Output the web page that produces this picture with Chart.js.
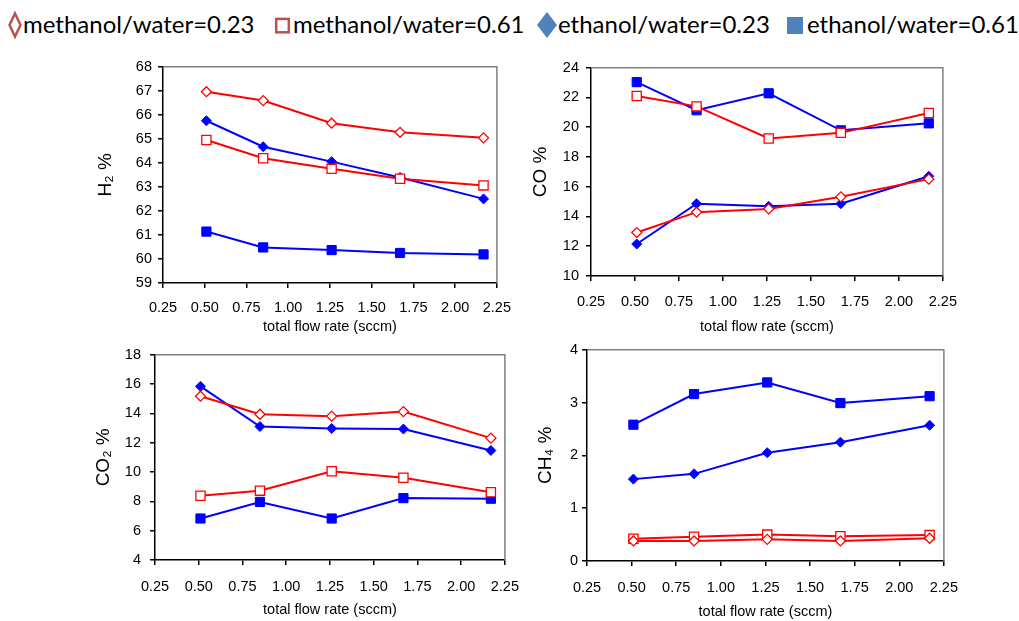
<!DOCTYPE html>
<html>
<head>
<meta charset="utf-8">
<script src="https://cdn.jsdelivr.net/npm/chart.js@4"></script>
<style>
  body { margin: 0; width: 1019px; height: 621px; background: #fff; position: relative; overflow: hidden; }
  .box { position: absolute; }
  .leg { position: absolute; top: 10px; font-family: Lato, sans-serif; font-size: 24px; line-height: 1.2; color: #000; white-space: nowrap; }
  #legendMarks { position: absolute; left: 0; top: 0; }
</style>
</head>
<body>

<svg id="legendMarks" width="1019" height="45">
  <polygon points="15,13.5 20.5,25 15,36.5 9.5,25" fill="none" stroke="#C0504D" stroke-width="2.5"/>
  <rect x="276.2" y="18.9" width="12.6" height="13.4" fill="none" stroke="#C0504D" stroke-width="2.5"/>
  <polygon points="547,12 557,25 547,38 537,25" fill="#4F81BD"/>
  <rect x="787" y="17" width="16" height="17" fill="#4F81BD"/>
</svg>
<div class="leg" style="left:23px">methanol/water=0.23</div>
<div class="leg" style="left:293px">methanol/water=0.61</div>
<div class="leg" style="left:558px">ethanol/water=0.23</div>
<div class="leg" style="left:807px">ethanol/water=0.61</div>

<div class="box" style="left:93px;top:52px;width:429px;height:291px"><canvas id="h2Chart"></canvas></div>
<div class="box" style="left:521px;top:52px;width:448px;height:284px"><canvas id="coChart"></canvas></div>
<div class="box" style="left:85px;top:337px;width:447px;height:283px"><canvas id="co2Chart"></canvas></div>
<div class="box" style="left:517px;top:337px;width:454px;height:284px"><canvas id="ch4Chart"></canvas></div>

<script>
// total flow rate (sccm)
const flowRate = [0.51, 0.85, 1.26, 1.67, 2.17];
const xTicks = [0.25, 2.25, 0.25]; // min, max, step

// H2 %
const h2MeOH023 = [66.96, 66.59, 65.65, 65.27, 65.04];
const h2MeOH061 = [64.95, 64.19, 63.75, 63.34, 63.06];
const h2EtOH023 = [65.75, 64.67, 64.05, 63.39, 62.50];
const h2EtOH061 = [61.14, 60.48, 60.37, 60.25, 60.19];
const h2Ticks = [59, 68, 1];

// CO %
const coMeOH023 = [12.92, 14.29, 14.51, 15.32, 16.51];
const coMeOH061 = [22.10, 21.40, 19.24, 19.62, 20.96];
const coEtOH023 = [12.15, 14.86, 14.68, 14.86, 16.70];
const coEtOH061 = [23.03, 21.14, 22.28, 19.79, 20.26];
const coTicks = [10, 24, 2];

// CO2 %
const co2MeOH023 = [15.17, 13.94, 13.81, 14.12, 12.31];
const co2MeOH061 = [8.38, 8.73, 10.05, 9.61, 8.62];
const co2EtOH023 = [15.84, 13.10, 12.97, 12.93, 11.47];
const co2EtOH061 = [6.83, 7.96, 6.83, 8.22, 8.18];
const co2Ticks = [4, 18, 2];

// CH4 %
const ch4MeOH023 = [0.38, 0.38, 0.41, 0.38, 0.43];
const ch4MeOH061 = [0.42, 0.46, 0.50, 0.47, 0.49];
const ch4EtOH023 = [1.55, 1.65, 2.05, 2.25, 2.57];
const ch4EtOH061 = [2.58, 3.16, 3.38, 2.99, 3.12];
const ch4Ticks = [0, 4, 1];

const seriesNames = ['methanol/water=0.23', 'methanol/water=0.61', 'ethanol/water=0.23', 'ethanol/water=0.61'];

const RED = '#FF0000';
const BLUE = '#0000FF';
const tickFont = { family: 'Liberation Sans, Arial, sans-serif', size: 14.5 };

// grey top and right edges of the plot box
const framePlugin = {
  id: 'frame',
  beforeDatasetsDraw(chart) {
    const { ctx, chartArea: a } = chart;
    ctx.save();
    ctx.strokeStyle = '#808080';
    ctx.lineWidth = 1.5;
    ctx.beginPath();
    ctx.moveTo(a.left, a.top);
    ctx.lineTo(a.right, a.top);
    ctx.lineTo(a.right, a.bottom);
    ctx.stroke();
    ctx.restore();
  }
};

function series(label, values, color, shape, filled) {
  const isSquare = shape === 'rect';
  return {
    label: label,
    data: flowRate.map((x, i) => ({ x: x, y: values[i] })),
    borderColor: color,
    borderWidth: 2,
    tension: 0,
    pointStyle: shape,
    pointRadius: isSquare ? 6.5 : 5,
    pointBackgroundColor: filled ? color : '#fff',
    pointBorderColor: color,
    pointBorderWidth: filled ? 1 : 1.3
  };
}

function makeChart(id, yTitle, yTicks, m023, m061, e023, e061, p) {
  new Chart(document.getElementById(id), {
    type: 'line',
    data: {
      datasets: [
        series(seriesNames[0], m023, RED, 'rectRot', false),
        series(seriesNames[1], m061, RED, 'rect', false),
        series(seriesNames[2], e023, BLUE, 'rectRot', true),
        series(seriesNames[3], e061, BLUE, 'rect', true)
      ]
    },
    options: {
      responsive: true,
      maintainAspectRatio: false,
      animation: false,
      layout: { padding: { left: 0, top: 12, right: 25, bottom: 0 } },
      plugins: {
        legend: { display: false },
        tooltip: { enabled: false }
      },
      scales: {
        x: {
          type: 'linear',
          min: xTicks[0],
          max: xTicks[1],
          afterFit: s => { s.height = 60; },
          ticks: {
            stepSize: xTicks[2],
            padding: p.xPad,
            color: '#000',
            font: tickFont,
            maxRotation: 0,
            autoSkip: false,
            callback: v => v.toFixed(2)
          },
          grid: { display: true, drawOnChartArea: false, drawTicks: true, tickLength: 5, color: '#000', lineWidth: 1.5 },
          border: { display: true, color: '#000', width: 1.5 },
          title: {
            display: true,
            text: 'total flow rate (sccm)',
            color: '#000',
            font: tickFont,
            padding: { top: 0, bottom: p.xTitlePad }
          }
        },
        y: {
          type: 'linear',
          min: yTicks[0],
          max: yTicks[1],
          afterFit: s => { s.width = 70; },
          ticks: {
            stepSize: yTicks[2],
            padding: p.yPad,
            color: '#000',
            font: tickFont
          },
          grid: { display: true, drawOnChartArea: false, drawTicks: true, tickLength: 5, color: '#000', lineWidth: 1.5 },
          border: { display: true, color: '#000', width: 1.5 },
          title: {
            display: true,
            text: yTitle,
            color: '#000',
            font: { family: 'Liberation Sans, Arial, sans-serif', size: 19 },
            padding: { top: p.yTitlePad, bottom: 0 }
          }
        }
      }
    },
    plugins: [framePlugin]
  });
}

makeChart('h2Chart', 'H\u2082 %', h2Ticks, h2MeOH023, h2MeOH061, h2EtOH023, h2EtOH061,
  { xPad: 11, xTitlePad: 7, yPad: 6, yTitlePad: 1 });
makeChart('coChart', 'CO %', coTicks, coMeOH023, coMeOH061, coEtOH023, coEtOH061,
  { xPad: 12, xTitlePad: 0, yPad: 7, yTitlePad: 8 });
makeChart('co2Chart', 'CO\u2082 %', co2Ticks, co2MeOH023, co2MeOH061, co2EtOH023, co2EtOH061,
  { xPad: 13, xTitlePad: 1, yPad: 9, yTitlePad: 7 });
makeChart('ch4Chart', 'CH\u2084 %', ch4Ticks, ch4MeOH023, ch4MeOH061, ch4EtOH023, ch4EtOH061,
  { xPad: 13, xTitlePad: 0, yPad: 4, yTitlePad: 17 });
</script>
</body>
</html>
